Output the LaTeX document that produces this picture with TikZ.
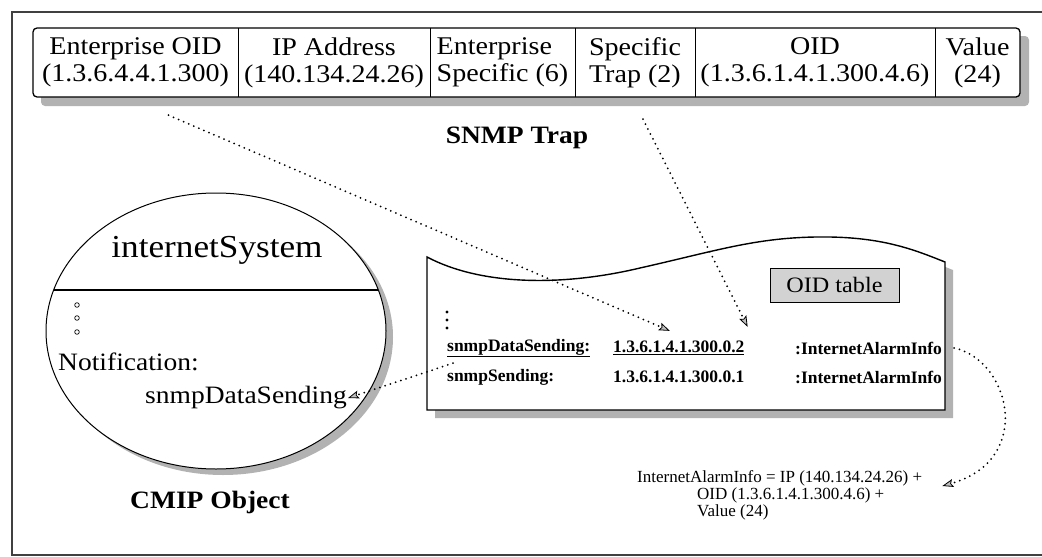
\documentclass[tikz,border=0pt]{standalone}
\usepackage{fontspec}
\setmainfont{Liberation Serif}[FakeStretch=1.1]
\newfontfamily\plainserif{Liberation Serif}
\usetikzlibrary{arrows.meta,calc,shapes.geometric}
\begin{document}
\begin{tikzpicture}[x=1pt,y=-1pt,
  cell/.style={inner sep=1pt, minimum height=69pt, font=\fontsize{25.5}{27}\selectfont},
  lbl/.style={font=\bfseries\fontsize{25}{27}\selectfont},
  obtext/.style={inner sep=0pt, font=\fontsize{25}{27}\selectfont},
  tbtext/.style={inner sep=0pt, anchor=west, font=\plainserif\bfseries\fontsize{17.5}{19}\selectfont},
  bottext/.style={inner sep=0pt, anchor=west, font=\plainserif\fontsize{17}{19}\selectfont},
  shadowfill/.style={fill=gray!60},
  dotline/.style={line width=2pt, dash pattern=on 0pt off 5.5pt, line cap=round,
     -{Stealth[length=11pt,width=8pt,inset=2pt,line width=0.8pt,fill=gray!50]}},
  frameline/.style={line width=2pt, draw=black!75}
]
\useasboundingbox (0,0) rectangle (1042,557);
% outer frame
\draw[frameline] (1042,12) -- (12,12) -- (12,555) -- (1042,555);

% ---------- SNMP trap strip ----------
\fill[shadowfill, rounded corners=4pt] (41,36) rectangle (1029,106);
\draw[line width=1.3pt, fill=white, rounded corners=4pt] (33,28) rectangle (1020,97);
\node[cell, minimum width=205pt, align=center] (c1) at (135.5,62.5) {Enterprise OID\\(1.3.6.4.4.1.300)};
\node[cell, minimum width=192pt, align=center] (c2) at (334,62.5) {IP Address\\(140.134.24.26)};
\node[cell, minimum width=145pt, align=left] (c3) at (502.5,62.5) {Enterprise\\Specific (6)};
\node[cell, minimum width=120pt, align=left] (c4) at (635,62.5) {Specific\\Trap (2)};
\node[cell, minimum width=240pt, align=center] (c5) at (815,62.5) {OID\\(1.3.6.1.4.1.300.4.6)};
\node[cell, minimum width=85pt, align=center] (c6) at (977.5,62.5) {Value\\(24)};
\foreach \c in {c1,c2,c3,c4,c5}{\draw[line width=1.2pt] (\c.north east) -- (\c.south east);}
\node[lbl] (trap) at (517,138) {SNMP Trap};

% ---------- CMIP object ----------
\fill[shadowfill] (223,337) ellipse [x radius=170pt, y radius=138pt];
\node[ellipse, draw, line width=1pt, fill=white, inner sep=0pt,
      minimum width=340pt, minimum height=276pt] (obj) at (216,331) {};
\draw[line width=1.2pt] ($(obj.center)+(-162,-41)$) -- ($(obj.center)+(162,-41)$);
\node[obtext, font=\fontsize{32}{34}\selectfont] (sys) at (217,250) {internetSystem};
\foreach \yy in {305,318,332}{\draw[line width=0.7pt] (77,\yy) circle (2.3pt);}
\node[obtext, anchor=west] (notif) at (58,362) {Notification:};
\node[obtext, anchor=west] (snmp) at (145,398) {snmpDataSending};
\node[lbl] (cmip) at (210,502) {CMIP Object};

% ---------- OID table ----------
\def\tblpath{(427,257) .. controls (480,285) and (560,287) .. (640,268)
  .. controls (720,250) and (760,236) .. (830,237)
  .. controls (885,238) and (915,250) .. (945,262) -- (945,410) -- (427,410) -- cycle}
\fill[shadowfill, shift={(8,8)}] \tblpath;
\draw[line width=1.4pt, fill=white] \tblpath;
\node[draw, line width=1pt, fill=gray!35, minimum width=129pt, minimum height=34pt,
      inner sep=0pt, font=\fontsize{22}{24}\selectfont] (oidtab) at (834.5,285) {OID table};
\foreach \yy in {312,320,328}{\fill (447,\yy) circle (1.6pt);}
\node[tbtext] (r1a) at (447,348) {\underline{snmpDataSending:}};
\node[tbtext] (r1b) at (613,348) {\underline{1.3.6.1.4.1.300.0.2}};
\node[tbtext] (r1c) at (795,348) {:InternetAlarmInfo};
\node[tbtext] (r2a) at (447,377) {snmpSending:};
\node[tbtext] (r2b) at (613,377) {1.3.6.1.4.1.300.0.1};
\node[tbtext] (r2c) at (795,377) {:InternetAlarmInfo};

% ---------- bottom formula ----------
\node[bottext] (b1) at (637,478) {InternetAlarmInfo = IP (140.134.24.26) +};
\node[bottext] (b2) at (697,495) {OID (1.3.6.1.4.1.300.4.6) +};
\node[bottext] (b3) at (697,512) {Value (24)};

% ---------- connectors ----------
\draw[dotline] ($(c1.south)+(33,18)$) -- ($(r1b.north)+(-9,-10)$);
\draw[dotline] ($(c4.south)+(8,22)$) -- ($(r1b.north east)+(3,-14)$);
\draw[dotline] ($(r1a.south west)+(6,6)$) -- ($(snmp.east)+(1,0)$);
\draw[dotline] ($(r1c.east)+(12,0)$) .. controls (1010,360) and (1035,460) .. ($(b1.east)+(20,8)$);
\end{tikzpicture}
\end{document}
